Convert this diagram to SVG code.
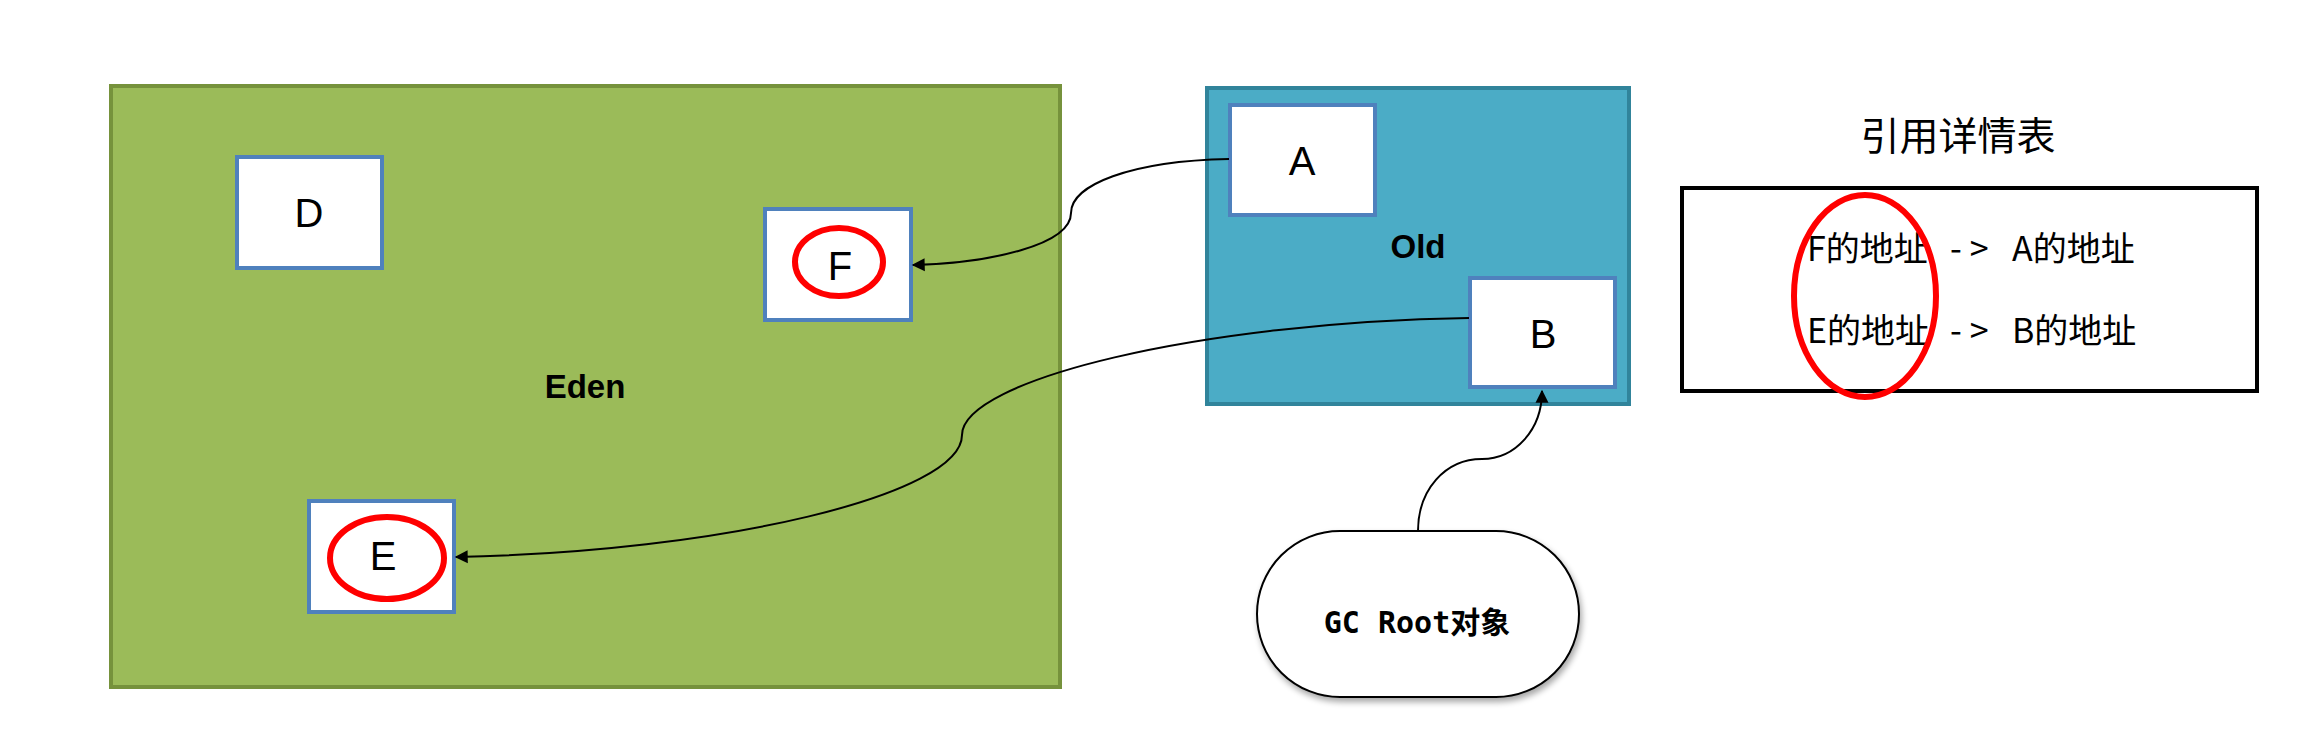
<svg xmlns="http://www.w3.org/2000/svg" width="2306" height="740" viewBox="0 0 2306 740">
<style>
.box{fill:#fff;stroke:#4F81BD;stroke-width:4}
.lbl{font-family:"Liberation Sans",Arial,sans-serif;font-size:40px;fill:#000;text-anchor:middle}
.zone{font-family:"Liberation Sans",Arial,sans-serif;font-size:33px;font-weight:bold;fill:#000;text-anchor:middle}
.ring{fill:none;stroke:#FF0000;stroke-width:6}
.conn{fill:none;stroke:#000;stroke-width:2}
.cjk{font-family:"Noto Sans CJK SC",sans-serif;font-size:34px;fill:#000}
</style>
<defs>
<marker id="arr" viewBox="0 0 10 10" refX="9" refY="5" markerWidth="13" markerHeight="13" markerUnits="userSpaceOnUse" orient="auto" style="overflow:visible">
<path d="M0,0 L10,5 L0,10 z" fill="#000"/>
</marker>
<filter id="sh" x="-10%" y="-10%" width="130%" height="130%">
<feGaussianBlur in="SourceAlpha" stdDeviation="3"/>
<feOffset dx="2" dy="4" result="b"/>
<feComponentTransfer><feFuncA type="linear" slope="0.35"/></feComponentTransfer>
<feMerge><feMergeNode/><feMergeNode in="SourceGraphic"/></feMerge>
</filter>
</defs>
<rect width="2306" height="740" fill="#fff"/>

<g id="eden">
<rect x="111" y="86" width="949" height="601" fill="#9BBB59" stroke="#76923C" stroke-width="4"/>
<text class="zone" x="585" y="398">Eden</text>
</g>

<g id="old">
<rect x="1207" y="88" width="422" height="316" fill="#4BACC6" stroke="#31849B" stroke-width="4"/>
<text class="zone" x="1418" y="258">Old</text>
</g>

<g id="node-D">
<rect class="box" x="237" y="157" width="145" height="111"/>
<text class="lbl" x="309" y="227">D</text>
</g>

<g id="node-F">
<rect class="box" x="765" y="209" width="146" height="111"/>
<ellipse class="ring" cx="839" cy="262" rx="44" ry="34"/>
<text class="lbl" x="840" y="280">F</text>
</g>

<g id="node-E">
<rect class="box" x="309" y="501" width="145" height="111"/>
<ellipse class="ring" cx="387" cy="558" rx="57" ry="41"/>
<text class="lbl" x="383" y="570">E</text>
</g>

<g id="node-A">
<rect class="box" x="1230" y="105" width="145" height="110"/>
<text class="lbl" x="1302" y="175">A</text>
</g>

<g id="node-B">
<rect class="box" x="1470" y="278" width="145" height="109"/>
<text class="lbl" x="1543" y="348">B</text>
</g>

<g id="node-gcroot">
<rect x="1257" y="531" width="322" height="166" rx="83" ry="83" fill="#fff" stroke="#000" stroke-width="2" filter="url(#sh)"/>
<text x="1417" y="633" text-anchor="middle" style="font-family:'DejaVu Sans Mono','Noto Sans CJK SC',monospace;font-size:30px;font-weight:bold;fill:#000">GC Root对象</text>
</g>

<g id="table">
<text x="1958" y="150" text-anchor="middle" style="font-family:'Noto Sans CJK SC',sans-serif;font-size:39px;fill:#000">引用详情表</text>
<rect x="1682" y="188" width="575" height="203" fill="#fff" stroke="#000" stroke-width="4"/>
<text class="cjk" y="261"><tspan x="1807">F的地址</tspan><tspan x="1950" letter-spacing="8">-&gt;</tspan><tspan x="2012">A的地址</tspan></text>
<text class="cjk" y="343"><tspan x="1807">E的地址</tspan><tspan x="1950" letter-spacing="8">-&gt;</tspan><tspan x="2012">B的地址</tspan></text>
<ellipse class="ring" cx="1865" cy="296" rx="71" ry="101"/>
</g>

<g id="connectors">
<path class="conn" d="M1229,159 C1130,161 1071,185 1071,213 C1071,245 990,263 913,265" marker-end="url(#arr)"/>
<path class="conn" d="M1469,318 C1200,322 962,380 962,435 C962,495 720,552 456,557" marker-end="url(#arr)"/>
<path class="conn" d="M1418,531 C1418,490 1445,459 1482,459 C1515,459 1542,430 1542,391" marker-end="url(#arr)"/>
</g>
</svg>
